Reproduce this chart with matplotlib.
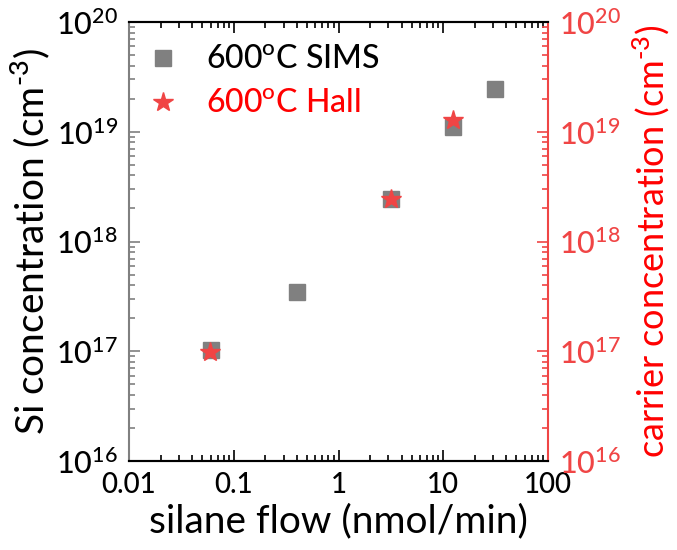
import matplotlib
matplotlib.use('Agg')
import matplotlib.pyplot as plt
from matplotlib.ticker import LogLocator, NullFormatter

plt.rcParams['font.family'] = ['Lato', 'DejaVu Sans']
plt.rcParams['font.weight'] = 'medium'
plt.rcParams['mathtext.fontset'] = 'custom'
plt.rcParams['mathtext.rm'] = 'Lato:medium'

# silane flow (nmol/min)
sims_flow = [0.06, 0.4, 3.15, 12.4, 31.5]
sims_conc = [1.02e17, 3.5e17, 2.45e18, 1.1e19, 2.45e19]

hall_flow = [0.059, 3.2, 12.4]
hall_conc = [0.99e17, 2.45e18, 1.27e19]

xticks = [0.01, 0.1, 1, 10, 100]
xticklabels = ['0.01', '0.1', '1', '10', '100']

gray = '#808080'
red_ax = '#f04545'
red_txt = '#ff0000'

fig = plt.figure(figsize=(6.77, 5.5), dpi=100)
ax = fig.add_axes([129 / 677, 1 - 461 / 550, 419 / 677, 439 / 550])
ax2 = ax.twinx()

ax.set_xscale('log')
ax.set_yscale('log')
ax2.set_yscale('log')
ax.set_xlim(0.01, 100)
ax.set_ylim(1e16, 1e20)
ax2.set_ylim(1e16, 1e20)

h1, = ax.plot(sims_flow, sims_conc, ls='none', marker='s', ms=11.5,
              color=gray, mec=gray, label='600$^\\mathregular{o}$C SIMS')
h2, = ax2.plot(hall_flow, hall_conc, ls='none', marker='*', ms=15,
               color=red_ax, mec=red_ax, label='600$^\\mathregular{o}$C Hall')

# spines
ax.spines['left'].set_color(gray)
ax.spines['right'].set_visible(False)
ax2.spines['left'].set_visible(False)
ax2.spines['right'].set_color(red_ax)
for a in (ax, ax2):
    for s in a.spines.values():
        s.set_linewidth(1.5)

# x ticks
ax.xaxis.set_minor_locator(LogLocator(base=10, subs=range(2, 10), numticks=10))
ax.set_xticks(xticks)
ax.set_xticklabels(xticklabels)
ax.xaxis.set_minor_formatter(NullFormatter())
ax.tick_params(axis='x', which='both', direction='in', top=True, bottom=True,
               colors='black', labelsize=20, width=1.2, pad=8)
ax.tick_params(axis='x', which='major', length=8)
ax.tick_params(axis='x', which='minor', length=4)

# left y ticks
ax.tick_params(axis='y', which='both', direction='in', color=gray,
               labelcolor='black', labelsize=22, width=1.2, pad=8)
ax.tick_params(axis='y', which='major', length=8)
ax.tick_params(axis='y', which='minor', length=4)

# right y ticks
ax2.tick_params(axis='y', which='both', direction='in', color=red_ax,
                labelcolor=red_ax, labelsize=22, width=1.2, pad=8)
ax2.tick_params(axis='y', which='major', length=8)
ax2.tick_params(axis='y', which='minor', length=4)
for a in (ax, ax2):
    a.yaxis.set_major_locator(LogLocator(base=10, numticks=10))
    a.yaxis.set_minor_locator(LogLocator(base=10, subs=range(2, 10), numticks=10))
    a.yaxis.set_minor_formatter(NullFormatter())

ax.set_xlabel('silane flow (nmol/min)', fontsize=28, labelpad=4)
ax.set_ylabel('Si concentration (cm$^\\text{-3}$)', fontsize=28, labelpad=3)
ax2.set_ylabel('carrier concentration (cm$^\\text{-3}$)', fontsize=26,
               color=red_txt, labelpad=7)

leg = ax2.legend(handles=[h1, h2], loc='upper left', bbox_to_anchor=(0, 0.977),
                 frameon=False, fontsize=23, handlelength=1.3,
                 handletextpad=0.7, labelspacing=0.45,
                 borderaxespad=0.2, borderpad=0.2)
leg.get_texts()[1].set_color(red_txt)

fig.savefig('out.png', dpi=100)
